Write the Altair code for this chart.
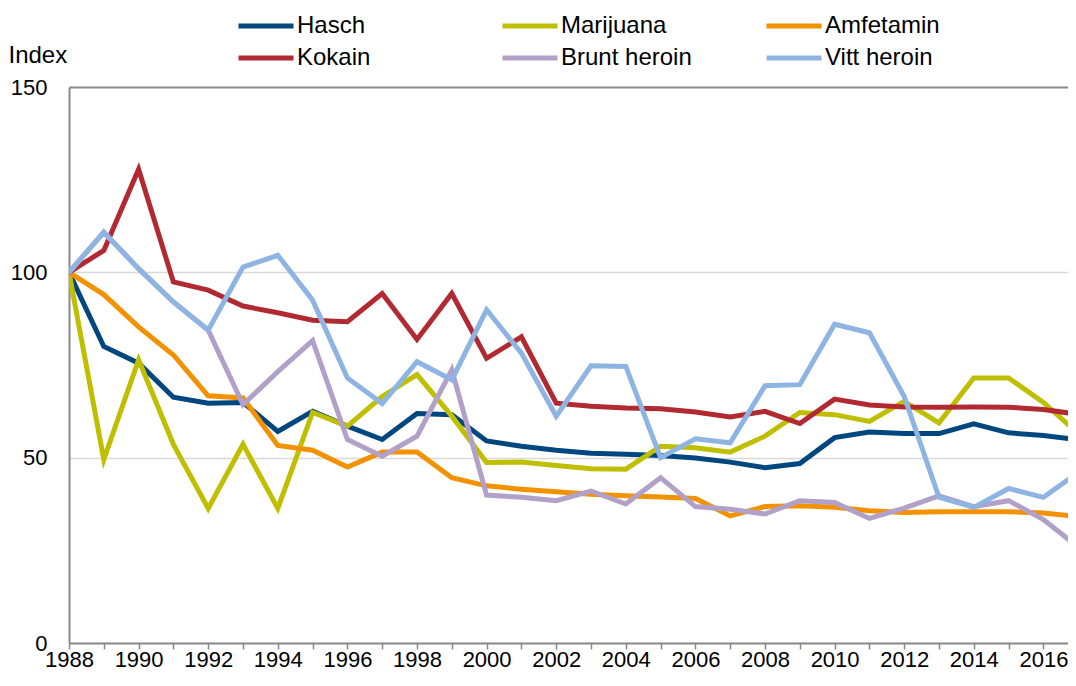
import altair as alt
import pandas as pd

years = list(range(1988, 2018))
names = ["Hasch", "Marijuana", "Amfetamin", "Kokain", "Brunt heroin", "Vitt heroin"]
colors = ["#00467F", "#BFBF00", "#F39200", "#B22A31", "#B1A0C7", "#8DB4E2"]

hasch = [100, 80, 75.5, 66.3, 64.7, 64.9, 57.1, 62.5, 58.5, 54.9, 61.9, 61.6, 54.5, 53.1, 52,
         51.2, 50.9, 50.6, 49.9, 48.8, 47.3, 48.4, 55.4, 56.9, 56.5, 56.5, 59.1, 56.7, 56, 54.8]
marijuana = [100, 49.5, 76.4, 53.6, 36.3, 53.6, 36.3, 62.2, 58.5, 66.5, 72.4, 61.2, 48.7, 48.8, 47.9,
             47, 46.9, 53.1, 52.7, 51.5, 55.8, 62.2, 61.6, 59.8, 65.2, 59.4, 71.5, 71.5, 64.9, 56.5]
amfetamin = [100, 94, 85.3, 77.7, 66.7, 66.1, 53.3, 52, 47.5, 51.5, 51.5, 44.6, 42.4, 41.5, 40.8,
             40.1, 39.7, 39.4, 39, 34.3, 36.8, 37, 36.6, 35.7, 35.2, 35.4, 35.4, 35.4, 35.1, 34.1]
kokain = [100, 105.9, 127.8, 97.4, 95.2, 90.9, 89.1, 87.1, 86.7, 94.3, 81.9, 94.3, 76.8, 82.6, 64.7,
          63.9, 63.4, 63.2, 62.3, 61, 62.5, 59.2, 65.8, 64.2, 63.7, 63.6, 63.7, 63.6, 63, 61.7]
brunt_heroin = [100, 110.8, 101, 92, 84.4, 64.3, 73.2, 81.6, 54.9, 50.4, 55.8, 73.7, 39.9, 39.3, 38.4,
                41, 37.5, 44.6, 36.8, 36.1, 34.8, 38.4, 37.9, 33.6, 36.4, 39.7, 36.8, 38.4, 33.3, 25.9]
vitt_heroin = [100, 110.8, 101, 92, 84.4, 101.4, 104.6, 92.5, 71.5, 64.6, 75.9, 71, 89.9, 78.2, 61.2,
               74.8, 74.6, 50, 55.1, 54, 69.4, 69.7, 86, 83.7, 66.5, 39.3, 36.6, 41.7, 39.3, 46]

y_ticks = [0, 50, 100, 150]

series = [hasch, marijuana, amfetamin, kokain, brunt_heroin, vitt_heroin]
rows = []
for name, vals in zip(names, series):
    for yr, v in zip(years, vals):
        rows.append({"År": yr, "Värde": v, "Serie": name})
df = pd.DataFrame(rows)

FONT = "Liberation Sans, Arial, sans-serif"
AXIS_GRAY = "#898989"

x_enc = alt.X(
    "År:Q",
    scale=alt.Scale(domain=[1988, 2016.707], nice=False, zero=False),
    axis=alt.Axis(
        values=years[:-1],
        labelExpr="datum.value % 2 == 0 ? datum.label : ''",
        format="d",
        title=None,
        grid=False,
        domainColor=AXIS_GRAY,
        domainWidth=2,
        tickColor=AXIS_GRAY,
        tickWidth=1.5,
        tickSize=6,
        labelFont=FONT,
        labelFontSize=22,
        labelColor="black",
        labelPadding=0,
        labelFlush=False,
        labelOverlap=False,
    ),
)

y_enc = alt.Y(
    "Värde:Q",
    scale=alt.Scale(domain=[0, 150], nice=False),
    axis=alt.Axis(
        values=y_ticks,
        title="Index",
        titleAngle=0,
        titleX=-61,
        titleY=-32,
        titleAlign="left",
        titleBaseline="middle",
        titleFont=FONT,
        titleFontSize=24,
        titleFontWeight="normal",
        titleColor="black",
        grid=True,
        gridColor=alt.condition("datum.value == 150", alt.value(AXIS_GRAY), alt.value("#d9d9d9")),
        gridWidth=alt.condition("datum.value == 150", alt.value(2), alt.value(1.5)),
        domainColor=AXIS_GRAY,
        domainWidth=2,
        ticks=False,
        tickSize=0,
        labelFont=FONT,
        labelFontSize=22,
        labelColor="black",
        labelPadding=22,
    ),
)


def legend_row(y, col_pad):
    return alt.Legend(
        title=None,
        orient="none",
        legendX=167,
        legendY=y,
        direction="horizontal",
        columns=3,
        gridAlign="all",
        columnPadding=col_pad,
        padding=0,
        symbolType="stroke",
        symbolSize=3025,
        symbolStrokeWidth=5,
        labelFont=FONT,
        labelFontSize=24,
        labelColor="black",
        labelOffset=1,
        labelLimit=300,
    )


row1 = names[:3]
row2 = names[3:]

color_enc = alt.Color(
    "Serie:N",
    scale=alt.Scale(domain=row1, range=colors[:3]),
    legend=legend_row(-91, 80),
)
stroke_enc = alt.Stroke(
    "Serie:N",
    scale=alt.Scale(domain=row2, range=colors[3:]),
    legend=legend_row(-59, 64),
)

layers = []
for n in row1:
    layers.append(
        alt.Chart(df).mark_line(strokeWidth=5, clip=True)
        .encode(x=x_enc, y=y_enc, color=color_enc)
        .transform_filter(alt.datum.Serie == n)
    )
for n in row2:
    layers.append(
        alt.Chart(df).mark_line(strokeWidth=5, clip=True)
        .encode(x=x_enc, y=y_enc, stroke=stroke_enc)
        .transform_filter(alt.datum.Serie == n)
    )

chart = alt.layer(*layers).properties(
    width=999,
    height=556,
    autosize=alt.AutoSizeParams(type="none"),
    padding={"left": 61, "right": 0, "top": 79, "bottom": 33},
).configure_view(stroke=None)

chart.save("out.html", embed_options={"renderer": "svg", "actions": False})
